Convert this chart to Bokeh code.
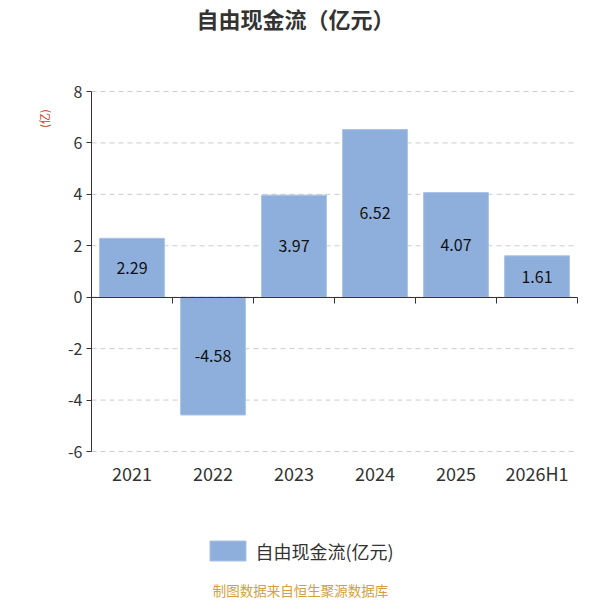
import math
from bokeh.plotting import figure
from bokeh.models import (ColumnDataSource, Range1d, LinearAxis, FixedTicker,
                          Label, LabelSet, Legend, LegendItem)
from bokeh.core.properties import value
from bokeh.embed import file_html
from bokeh.resources import INLINE

categories = ["2021", "2022", "2023", "2024", "2025", "2026H1"]
values = [2.29, -4.58, 3.97, 6.52, 4.07, 1.61]
y_ticks = [-6, -4, -2, 0, 2, 4, 6, 8]
title_text = "自由现金流（亿元）"
series_name = "自由现金流(亿元)"
unit_text = "(亿)"
footer_text = "制图数据来自恒生聚源数据库"

FONT = "Noto Sans CJK SC"
TXT = "#333333"
BAR = "#8eafdc"

W, H = 600, 600
# plot area in pixels (top-left origin)
LEFT, RIGHT, TOP, BOTTOM = 91, 577, 91, 451
n = len(categories)
ymin, ymax = y_ticks[0], y_ticks[-1]
KX = (RIGHT - LEFT) / n
KY = (BOTTOM - TOP) / (ymax - ymin)


def xpx(px):
    return (px - LEFT) / KX


def ypx(py):
    return ymax - (py - TOP) / KY


xs = [i + 0.5 for i in range(n)]
src = ColumnDataSource(dict(
    x=xs, top=values, mid=[v / 2 for v in values],
    lbl=[f"{v:.2f}" for v in values],
))

p = figure(width=W, height=H,
           min_border_left=0, min_border_right=0, min_border_top=0,
           min_border_bottom=0,
           x_range=Range1d(xpx(0), xpx(W)), y_range=Range1d(ypx(H), ypx(0)),
           output_backend="svg", toolbar_location=None,
           x_axis_location=None, y_axis_location=None)
p.outline_line_color = None
p.background_fill_color = "white"
p.border_fill_color = "white"
p.xgrid.visible = False
p.ygrid.visible = False

# dashed horizontal grid lines over the category span
p.segment(x0=[0] * len(y_ticks), x1=[n] * len(y_ticks), y0=y_ticks, y1=y_ticks,
          line_color="#cccccc", line_dash="5 4", line_width=1)

bars = p.vbar(x="x", top="top", bottom=0, width=0.8, source=src,
              fill_color=BAR, line_color="#a9c2e6", line_width=1)

# value labels
p.add_layout(LabelSet(x="x", y="mid", text="lbl", source=src,
                      text_align="center", text_baseline="middle",
                      text_font=value(FONT), text_font_size="16px",
                      text_color="#111111"))

# y axis
ya = LinearAxis(fixed_location=0, bounds=(ymin, ymax),
                ticker=FixedTicker(ticks=y_ticks),
                major_label_overrides={t: str(t) for t in y_ticks},
                axis_line_color=TXT, major_tick_line_color=TXT,
                major_tick_out=5, major_tick_in=0,
                minor_tick_line_color=None,
                major_label_text_font=FONT, major_label_text_font_size="16px",
                major_label_text_color=TXT, major_label_standoff=4)
p.add_layout(ya, "left")

# zero axis with boundary ticks
zax = LinearAxis(fixed_location=0, bounds=(0, n),
                 ticker=FixedTicker(ticks=list(range(n + 1))),
                 major_label_overrides={i: "" for i in range(n + 1)},
                 major_label_text_font_size="0px",
                 axis_line_color=TXT, major_tick_line_color=TXT,
                 major_tick_in=0, major_tick_out=6,
                 minor_tick_line_color=None)
p.add_layout(zax, "below")

# category labels
cax = LinearAxis(fixed_location=ymin, ticker=FixedTicker(ticks=xs),
                 major_label_overrides={x: c for x, c in zip(xs, categories)},
                 axis_line_color=None, major_tick_line_color=None,
                 minor_tick_line_color=None,
                 major_tick_out=0, major_tick_in=0,
                 major_label_standoff=8,
                 major_label_text_font=FONT, major_label_text_font_size="18px",
                 major_label_text_color=TXT)
p.add_layout(cax, "below")

# legend (area legend glyph is inset by 10% of its box)
legend = Legend(items=[LegendItem(label=series_name, renderers=[bars])],
                location=(204.5, H - 563.5), orientation="horizontal",
                glyph_width=45, glyph_height=25, label_standoff=6,
                label_height=25,
                label_text_font=FONT, label_text_font_size="18px",
                label_text_color=TXT, padding=0, margin=0,
                border_line_color=None, background_fill_alpha=0)
p.add_layout(legend, "center")

title = Label(x=xpx(295), y=ypx(17),
              text=title_text, text_align="center", text_baseline="middle",
              text_font=FONT, text_font_size="22px", text_font_style="bold",
              text_color=TXT)
p.add_layout(title)
unit = Label(x=xpx(43), y=ypx(118), angle=math.pi / 2,
             text=unit_text, text_align="center", text_baseline="middle",
             text_font=FONT, text_font_size="11px", text_color="#c8402a")
p.add_layout(unit)
footer = Label(x=xpx(300), y=ypx(589),
               text=footer_text, text_align="center", text_baseline="middle",
               text_font=FONT, text_font_size="13.5px", text_color="#d4a03c")
p.add_layout(footer)

open("out.html", "w").write(file_html(p, INLINE))
